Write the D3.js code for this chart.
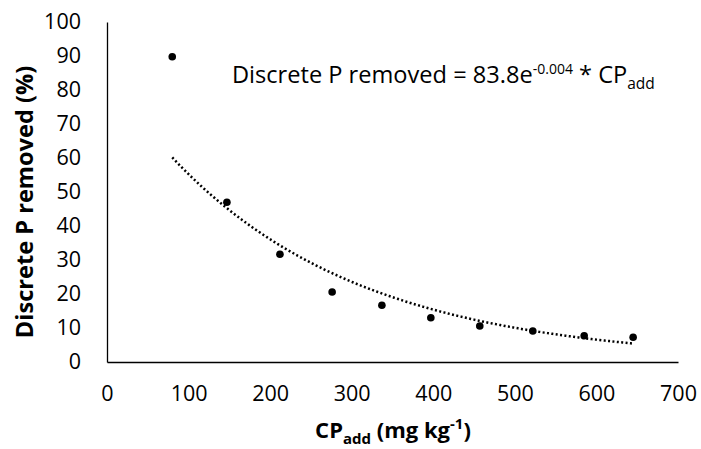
<!DOCTYPE html>
<html><head><meta charset="utf-8">
<script src="https://cdn.jsdelivr.net/npm/d3@7"></script>
<style>
body{margin:0;background:#fff;}
svg{display:block;font-family:"Open Sans",Lato,sans-serif;}
</style></head>
<body><svg id="c" width="701" height="449"></svg>
<script>
const cpAdd = [80, 147, 212, 276, 337, 397, 457, 522, 585, 645];
const pRemoved = [89.8, 47, 31.7, 20.6, 16.7, 13.0, 10.6, 9.1, 7.7, 7.3];
const xTicks = [0, 100, 200, 300, 400, 500, 600, 700];
const yTicks = [0, 10, 20, 30, 40, 50, 60, 70, 80, 90, 100];

const svg = d3.select("#c");
const m = {l:107, r:23, t:22, b:87};
const W = 701, H = 449;
const x = d3.scaleLinear().domain([0,700]).range([m.l, W-m.r]);
const y = d3.scaleLinear().domain([0,100]).range([H-m.b, m.t]);

// exponential least-squares fit (as Excel trendline)
const n = cpAdd.length;
const ly = pRemoved.map(Math.log);
const mx = d3.mean(cpAdd), my = d3.mean(ly);
let sxy=0, sxx=0;
for(let i=0;i<n;i++){sxy+=(cpAdd[i]-mx)*(ly[i]-my); sxx+=(cpAdd[i]-mx)**2;}
const b = sxy/sxx, a = Math.exp(my - b*mx);
const xs = d3.range(d3.min(cpAdd), d3.max(cpAdd)+0.1, 2);
const trend = xs.map(v=>[v, a*Math.exp(b*v)]);

const ya = svg.append("g").attr("transform",`translate(${m.l},0)`)
  .call(d3.axisLeft(y).tickValues(yTicks).tickSize(0).tickPadding(26));
const xa = svg.append("g").attr("transform",`translate(0,${H-m.b})`)
  .call(d3.axisBottom(x).tickValues(xTicks).tickSize(0).tickPadding(24));
[ya,xa].forEach(g=>{
  g.select(".domain").attr("stroke","#000").attr("stroke-width",1.3);
  g.selectAll("text").attr("font-size",21.5).attr("fill","#000").attr("font-family","Open Sans");
});

svg.append("path").datum(trend)
  .attr("d", d3.line().x(d=>x(d[0])).y(d=>y(d[1])))
  .attr("fill","none").attr("stroke","#000").attr("stroke-width",2.5)
  .attr("stroke-dasharray","2,2.4").attr("stroke-linecap","butt");

svg.append("g").selectAll("circle").data(cpAdd).join("circle")
  .attr("cx",(d)=>x(d)).attr("cy",(d,i)=>y(pRemoved[i])).attr("r",3.8).attr("fill","#000");

// equation
const eq = svg.append("text").attr("x",232).attr("y",83).attr("font-size",23.6).attr("fill","#000");
eq.append("tspan").text("Discrete P removed = 83.8e");
eq.append("tspan").attr("dy",-9).attr("font-size",14).text("-0.004");
eq.append("tspan").attr("dy",9).text(" * CP");
eq.append("tspan").attr("dy",6).attr("font-size",15.5).text("add");

// axis titles
svg.append("text").attr("transform",`translate(33,202) rotate(-90)`)
  .attr("text-anchor","middle").attr("font-size",23.6).attr("font-weight","bold")
  .text("Discrete P removed (%)");
const xt = svg.append("text").attr("x",393).attr("y",438)
  .attr("text-anchor","middle").attr("font-size",22).attr("font-weight","bold");
xt.append("tspan").text("CP");
xt.append("tspan").attr("dy",6).attr("font-size",15).text("add");
xt.append("tspan").attr("dy",-6).text(" (mg kg");
xt.append("tspan").attr("dy",-9).attr("font-size",15).text("-1");
xt.append("tspan").attr("dy",9).text(")");
</script></body></html>
